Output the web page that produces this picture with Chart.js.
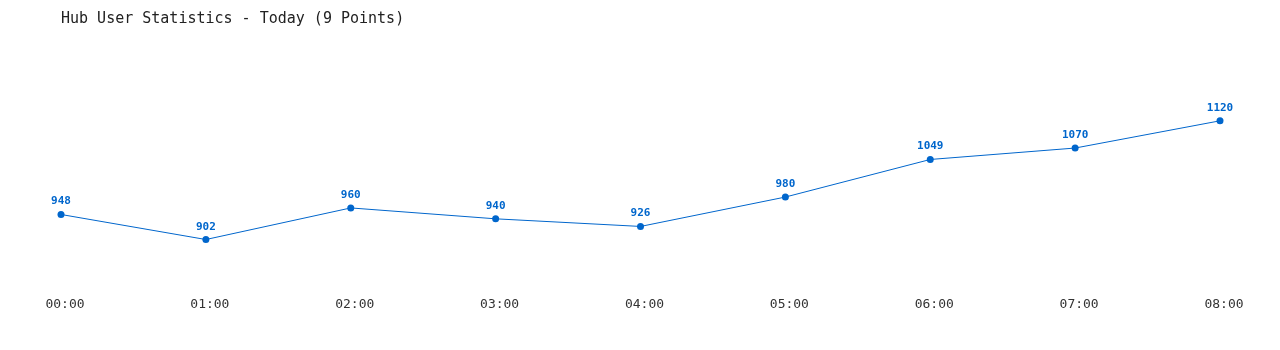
<!DOCTYPE html>
<html>
<head>
<meta charset="utf-8">
<script src="https://cdn.jsdelivr.net/npm/chart.js@4"></script>
<style>
  html, body { margin: 0; padding: 0; background: #ffffff; }
  #wrap { width: 1280px; height: 350px; position: relative; }
</style>
</head>
<body>
<div id="wrap"><canvas id="c" width="1280" height="350"></canvas></div>
<script>
const titleText = "Hub User Statistics - Today (9 Points)";
const categories = ["00:00", "01:00", "02:00", "03:00", "04:00", "05:00", "06:00", "07:00", "08:00"];
const userCounts = [948, 902, 960, 940, 926, 980, 1049, 1070, 1120];

const blue = "#0066cc";

const valueLabels = {
  id: "valueLabels",
  afterDatasetsDraw(chart) {
    const ctx = chart.ctx;
    const meta = chart.getDatasetMeta(0);
    ctx.save();
    ctx.font = "bold 11px 'DejaVu Sans Mono', 'Liberation Mono', monospace";
    ctx.fillStyle = blue;
    ctx.textAlign = "center";
    ctx.textBaseline = "alphabetic";
    meta.data.forEach((pt, i) => {
      ctx.fillText(String(userCounts[i]), pt.x, pt.y - 10);
    });
    ctx.restore();
  }
};

new Chart(document.getElementById("c"), {
  type: "line",
  data: {
    labels: categories,
    datasets: [{
      data: userCounts,
      borderColor: blue,
      backgroundColor: blue,
      borderWidth: 1,
      pointRadius: 3.5,
      pointBorderWidth: 0,
      pointBackgroundColor: blue,
      tension: 0,
      fill: false
    }]
  },
  options: {
    responsive: false,
    animation: false,
    layout: { padding: { left: 61, right: 60, top: 0, bottom: 31 } },
    plugins: {
      legend: { display: false },
      tooltip: { enabled: false },
      title: {
        display: true,
        text: titleText,
        align: "start",
        color: "#222222",
        font: { family: "'DejaVu Sans Mono', 'Liberation Mono', monospace", size: 15, weight: "normal", lineHeight: 1.2 },
        padding: { top: 10, bottom: 12 }
      }
    },
    scales: {
      x: {
        offset: false,
        grid: { display: false, drawTicks: false },
        border: { display: false },
        ticks: {
          color: "#333333",
          padding: 7,
          labelOffset: 4,
          maxRotation: 0,
          autoSkip: false,
          font: { family: "'DejaVu Sans Mono', 'Liberation Mono', monospace", size: 13 }
        }
      },
      y: {
        display: false,
        min: 810.4,
        max: 1268.4
      }
    }
  },
  plugins: [valueLabels]
});
</script>
</body>
</html>
